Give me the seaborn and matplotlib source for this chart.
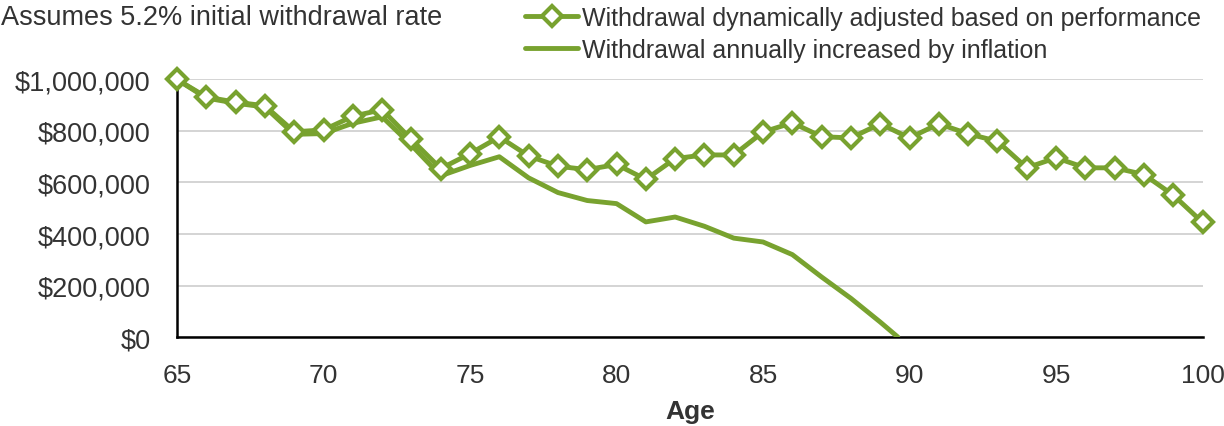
import matplotlib
matplotlib.use("Agg")
import matplotlib.pyplot as plt
import seaborn as sns
from matplotlib.ticker import FuncFormatter

sns.set_theme(style="white")
plt.rcParams['font.family'] = ['Liberation Sans', 'DejaVu Sans']

# Data
ages = list(range(65, 101))
dynamic = [1000000, 932000, 912000, 898000, 797000, 804000, 857000, 883000,
           767000, 654000, 712000, 777000, 703000, 663000, 650000, 670000,
           612000, 693000, 707000, 707000, 796000, 832000, 778000, 773000,
           828000, 773000, 828000, 789000, 760000, 657000, 696000, 657000,
           657000, 631000, 551000, 445000]

ages_infl = list(range(65, 90)) + [89.6]
inflation = [1000000, 928000, 908000, 893000, 787000, 790000, 830000, 855000,
             745000, 626000, 666000, 700000, 618000, 561000, 530000, 518000,
             447000, 466000, 430000, 384000, 369000, 320000, 233000, 150000,
             58000, 0]

labels = ["Withdrawal dynamically adjusted based on performance",
          "Withdrawal annually increased by inflation"]

green = "#78a22f"
text_col = "#333333"

fig = plt.figure(figsize=(12.24, 4.27), dpi=100)
ax = fig.add_axes([0.1446, 0.2084, 0.9825 - 0.1446, 0.8115 - 0.2084])

sns.lineplot(x=ages, y=dynamic, ax=ax, color=green, lw=3.5, marker="D",
             markersize=10, markerfacecolor="white", markeredgecolor=green,
             markeredgewidth=3, label=labels[0], clip_on=False, zorder=4)
sns.lineplot(x=ages_infl, y=inflation, ax=ax, color=green, lw=3.5,
             label=labels[1], zorder=3)

ax.set_xlim(65, 100)
ax.set_ylim(0, 1000000)
ax.set_xticks(range(65, 101, 5))
ax.set_yticks(range(0, 1000001, 200000))
ax.yaxis.set_major_formatter(FuncFormatter(lambda v, p: f"${v:,.0f}"))
ax.tick_params(axis="both", length=0, colors=text_col)
ax.tick_params(axis="x", pad=19, labelsize=19)
ax.tick_params(axis="y", pad=19, labelsize=19.5)

ax.grid(axis="y", color="#d4d4d4", lw=1.4)
ax.grid(axis="x", visible=False)
for s in ["top", "right"]:
    ax.spines[s].set_visible(False)
for s in ["left", "bottom"]:
    ax.spines[s].set_color("black")
    ax.spines[s].set_linewidth(1.8)

ax.set_xlabel("Age", fontsize=19, fontweight="bold", color=text_col, labelpad=8)
ax.set_ylabel("")

handles, lbls = ax.get_legend_handles_labels()
ax.get_legend().remove()
fig.legend(handles, lbls, loc="upper left", bbox_to_anchor=(0.421, 1.007),
           frameon=False, fontsize=18, handlelength=2.1, handletextpad=0.18,
           labelspacing=0.3, borderaxespad=0, labelcolor=text_col)

fig.text(0.001, 0.958, "Assumes 5.2% initial withdrawal rate", fontsize=19.5,
         color=text_col, ha="left", va="center")

fig.savefig("out.png", dpi=100)
